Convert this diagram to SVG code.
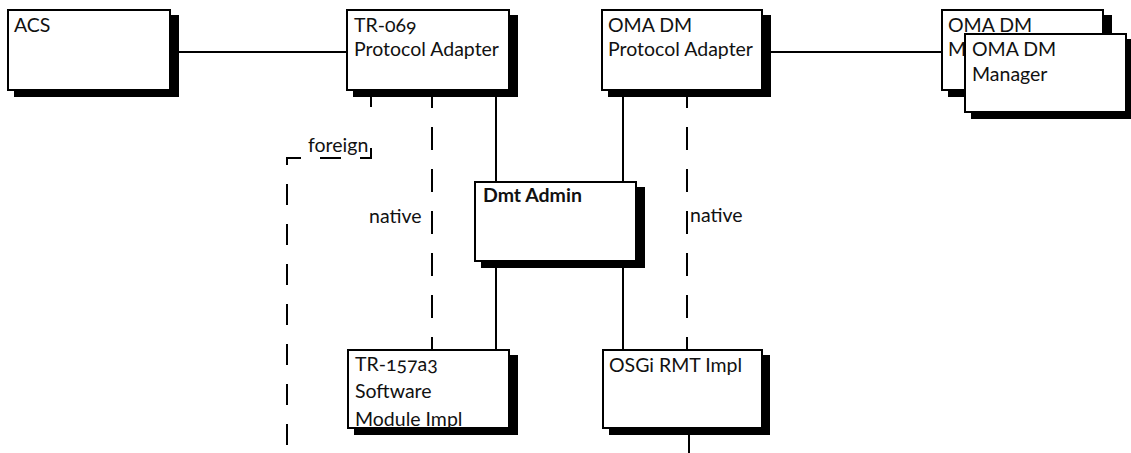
<svg xmlns="http://www.w3.org/2000/svg" width="1131" height="453" viewBox="0 0 1131 453">
<style>
.bg{fill:#fff}
.shadow{fill:#000}
.box{fill:#fff;stroke:#000;stroke-width:2}
.t{font-family:Lato,"Open Sans","Liberation Sans",sans-serif;font-size:19.5px;fill:#111;font-variant-numeric:oldstyle-nums}
.b{font-weight:bold}
.conn{stroke:#000;stroke-width:2;fill:none}
.dash{stroke-dasharray:23 19;stroke-dashoffset:6}
.dash2{stroke-dasharray:21 19}
</style>
<rect class="bg" x="0" y="0" width="1131" height="453"/>
<g id="connectors">
  <line class="conn" x1="179" y1="52" x2="346" y2="52"/>
  <line class="conn" x1="771" y1="52" x2="941" y2="52"/>
  <line class="conn" x1="496" y1="97" x2="496" y2="181"/>
  <line class="conn" x1="623" y1="97" x2="623" y2="181"/>
  <line class="conn" x1="496" y1="268" x2="496" y2="349"/>
  <line class="conn" x1="623" y1="268" x2="623" y2="349"/>
  <line class="conn dash" x1="432" y1="91" x2="432" y2="349"/>
  <line class="conn dash" x1="687" y1="91" x2="687" y2="349"/>
  <line class="conn" x1="371" y1="91" x2="371" y2="107"/>
  <path class="conn dash2" d="M371,148 V158 H287 V453"/>
  <line class="conn" x1="689" y1="435" x2="689" y2="453"/>
</g>
<g id="acs">
  <rect class="shadow" x="14" y="15" width="165" height="82"/>
  <rect class="box" x="8" y="10" width="162" height="80"/>
  <text class="t" x="14" y="32">ACS</text>
</g>
<g id="tr069-adapter">
  <rect class="shadow" x="353" y="15" width="165" height="82"/>
  <rect class="box" x="347" y="10" width="162" height="80"/>
  <text class="t" x="354" y="32">TR-069</text>
  <text class="t" x="354" y="56">Protocol Adapter</text>
</g>
<g id="omadm-adapter">
  <rect class="shadow" x="608" y="15" width="163" height="82"/>
  <rect class="box" x="602" y="10" width="160" height="80"/>
  <text class="t" x="608" y="32">OMA DM</text>
  <text class="t" x="608" y="56">Protocol Adapter</text>
</g>
<g id="omadm-manager">
  <rect class="shadow" x="948" y="15" width="164" height="82"/>
  <rect class="box" x="942" y="10" width="161" height="80"/>
  <text class="t" x="948" y="32">OMA DM</text>
  <text class="t" x="948" y="56">Manager</text>
  <rect class="shadow" x="971" y="39" width="164" height="80"/>
  <rect class="box" x="965" y="34" width="161" height="78"/>
  <text class="t" x="972" y="56">OMA DM</text>
  <text class="t" x="972" y="81">Manager</text>
</g>
<g id="dmt-admin">
  <rect class="shadow" x="481" y="187" width="164" height="81"/>
  <rect class="box" x="475" y="182" width="161" height="79"/>
  <text class="t b" x="483" y="202">Dmt Admin</text>
</g>
<g id="tr157a3">
  <rect class="shadow" x="354" y="355" width="164" height="80"/>
  <rect class="box" x="348" y="350" width="161" height="78"/>
  <text class="t" x="355" y="371">TR-157a3</text>
  <text class="t" x="355" y="398">Software</text>
  <text class="t" x="355" y="426">Module Impl</text>
</g>
<g id="osgi-rmt">
  <rect class="shadow" x="609" y="355" width="161" height="80"/>
  <rect class="box" x="603" y="350" width="159" height="78"/>
  <text class="t" x="609" y="372">OSGi RMT Impl</text>
</g>
<g id="labels">
  <text class="t" x="308" y="152">foreign</text>
  <text class="t" x="369" y="223">native</text>
  <text class="t" x="690" y="222">native</text>
</g>
</svg>
